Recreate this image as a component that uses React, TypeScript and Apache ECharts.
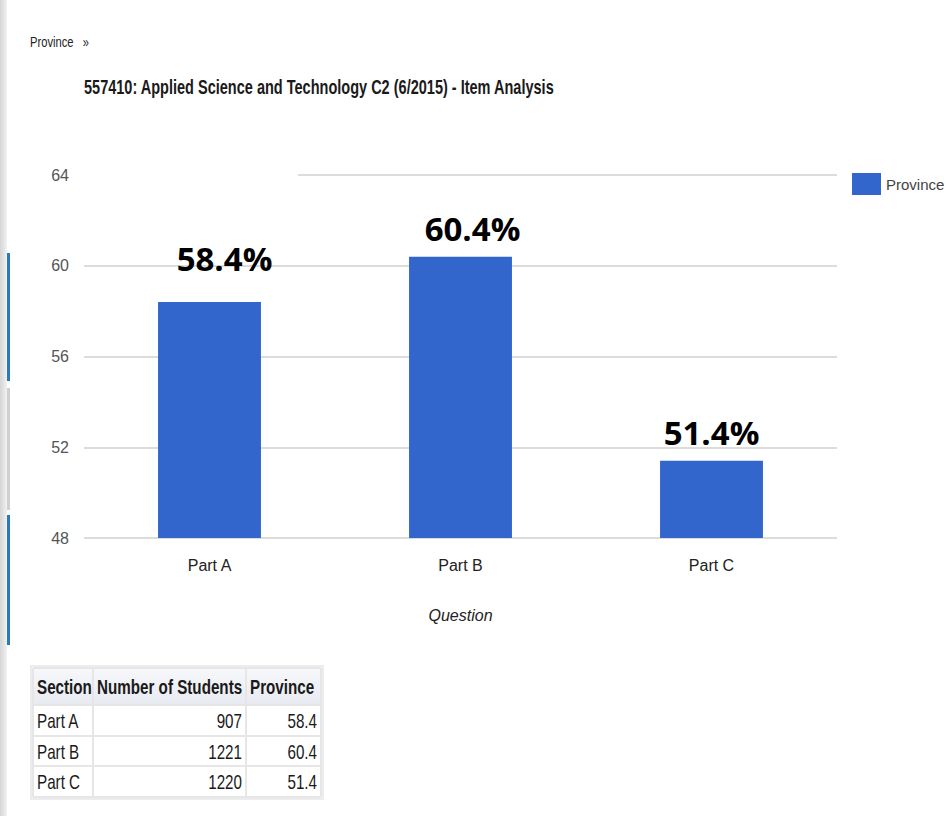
import React, { useEffect, useRef } from "react";
import * as echarts from "echarts";

const categories = ["Part A", "Part B", "Part C"];
const provinceValues = [58.4, 60.4, 51.4];
const studentCounts = [907, 1221, 1220];
const tableHeaders = ["Section", "Number of Students", "Province"];
const yTicks = { min: 48, max: 64, interval: 4 };
const labelOffsets = [[15, -15], [12, 0], [0, 0]];

const SANS = "'Liberation Sans', Arial, sans-serif";

export default function App() {
  const ref = useRef<HTMLDivElement>(null);
  useEffect(() => {
    if (!ref.current) return;
    const chart = echarts.init(ref.current, undefined, { renderer: "svg" });

    // table graphic
    const colX = [33, 93, 246, 321];
    const rowY = [668, 705, 736, 766, 797];
    const tableEls: any[] = [];
    tableEls.push({
      type: "rect", z: 100,
      shape: { x: colX[0] - 2, y: rowY[0] - 2, width: colX[3] - colX[0] + 4, height: rowY[4] - rowY[0] + 4 },
      style: { fill: "#ffffff", stroke: "#ececec", lineWidth: 2 },
    });
    tableEls.push({
      type: "rect", z: 100,
      shape: { x: colX[0], y: rowY[0], width: colX[3] - colX[0], height: rowY[1] - rowY[0] },
      style: {
        fill: new echarts.graphic.LinearGradient(0, 0, 0, 1, [
          { offset: 0, color: "#f7f8fb" },
          { offset: 1, color: "#e7eaf0" },
        ]),
      },
    });
    for (let r = 0; r <= 4; r++) {
      tableEls.push({
        type: "line", z: 101,
        shape: { x1: colX[0], y1: rowY[r], x2: colX[3], y2: rowY[r] },
        style: { stroke: "#e6e6e6", lineWidth: 2 },
      });
    }
    for (let c = 0; c <= 3; c++) {
      tableEls.push({
        type: "line", z: 101,
        shape: { x1: colX[c], y1: rowY[0], x2: colX[c], y2: rowY[4] },
        style: { stroke: "#e6e6e6", lineWidth: 2 },
      });
    }
    const cellText = (text: string, col: number, row: number, bold: boolean, alignRight: boolean) => ({
      type: "text", z: 102,
      x: alignRight ? colX[col + 1] - 4 : colX[col] + 4,
      y: (rowY[row] + rowY[row + 1]) / 2 + 1,
      scaleX: 0.76,
      style: {
        text,
        fill: "#1a1a1a",
        font: `${bold ? "bold " : ""}20px ${SANS}`,
        align: alignRight ? "right" : "left",
        verticalAlign: "middle",
      },
    });
    tableHeaders.forEach((h, i) => tableEls.push(cellText(h, i, 0, true, false)));
    categories.forEach((cat, i) => {
      tableEls.push(cellText(cat, 0, i + 1, false, false));
      tableEls.push(cellText(String(studentCounts[i]), 1, i + 1, false, true));
      tableEls.push(cellText(provinceValues[i].toFixed(1), 2, i + 1, false, true));
    });

    chart.setOption({
      animation: false,
      backgroundColor: "#ffffff",
      legend: {
        data: ["Province"],
        left: 852,
        top: 173,
        padding: 0,
        itemWidth: 29,
        itemHeight: 22,
        itemGap: 5,
        icon: "rect",
        textStyle: { fontFamily: SANS, fontSize: 15, color: "#444" },
      },
      grid: { left: 84, right: 109, top: 175, bottom: 278, containLabel: false },
      xAxis: {
        type: "category",
        data: categories,
        name: "Question",
        nameLocation: "middle",
        nameGap: 69,
        nameTextStyle: { fontFamily: SANS, fontStyle: "italic", fontSize: 16, color: "#222" },
        axisLine: { show: false },
        axisTick: { show: false },
        axisLabel: { fontFamily: SANS, fontSize: 16, color: "#222", margin: 19 },
      },
      yAxis: {
        type: "value",
        min: yTicks.min,
        max: yTicks.max,
        interval: yTicks.interval,
        axisLine: { show: false },
        axisTick: { show: false },
        axisLabel: { fontFamily: SANS, fontSize: 16, color: "#555", margin: 15 },
        splitLine: { lineStyle: { color: "#dcdcdc", width: 2 } },
      },
      series: [
        {
          name: "Province",
          type: "bar",
          barWidth: "41%",
          itemStyle: { color: "#3366cc" },
          data: provinceValues.map((v, i) => ({
            value: v,
            label: { offset: labelOffsets[i] },
          })),
          label: {
            show: true,
            position: "top",
            distance: 12,
            formatter: (p: any) => `${p.value.toFixed(1)}%`,
            fontFamily: "'Open Sans', Lato, sans-serif",
            fontWeight: "bold",
            fontSize: 33,
            color: "#000",
          },
        },
      ],
      graphic: [
        {
          type: "rect", z: 100,
          shape: { x: 0, y: 0, width: 7, height: 816 },
          style: {
            fill: new echarts.graphic.LinearGradient(0, 0, 1, 0, [
              { offset: 0, color: "#d4d4d4" },
              { offset: 1, color: "#f2f2f2" },
            ]),
          },
        },
        { type: "rect", z: 101, shape: { x: 7, y: 253, width: 3, height: 128 }, style: { fill: "#2a7ab8" } },
        { type: "rect", z: 101, shape: { x: 7, y: 388, width: 3, height: 122 }, style: { fill: "#d0d0d0" } },
        { type: "rect", z: 101, shape: { x: 7, y: 515, width: 3, height: 130 }, style: { fill: "#2a7ab8" } },
        { type: "rect", z: 100, shape: { x: 82, y: 171, width: 216, height: 8 }, style: { fill: "#ffffff" } },
        {
          type: "text", z: 100, x: 30, y: 43, scaleX: 0.8,
          style: { text: "Province   »", font: `14px ${SANS}`, fill: "#222", verticalAlign: "middle" },
        },
        {
          type: "text", z: 100, x: 84, y: 87, scaleX: 0.726,
          style: {
            text: "557410: Applied Science and Technology C2 (6/2015) - Item Analysis",
            font: `bold 20px ${SANS}`,
            fill: "#1a1a1a",
            verticalAlign: "middle",
          },
        },
        ...tableEls,
      ],
    });
    return () => chart.dispose();
  }, []);
  return <div ref={ref} style={{ position: "absolute", left: 0, top: 0, width: 946, height: 816 }} />;
}
